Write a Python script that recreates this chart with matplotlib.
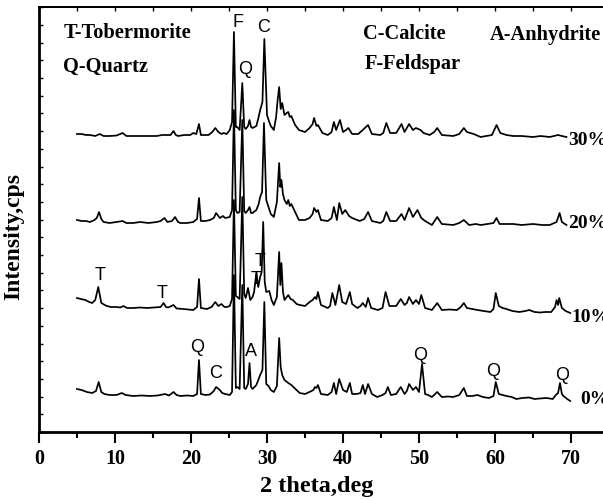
import matplotlib
matplotlib.use('Agg')
import matplotlib.pyplot as plt
import numpy as np

# 2-theta positions and intensities (arbitrary cps)
tt_0 = [5.0, 5.6, 6.3, 7.0, 7.5, 7.85, 8.2, 8.6, 9.3, 10.2, 10.9, 11.4, 12.4, 13.5, 14.6, 15.6, 16.6, 17.1,
        17.7, 18.1, 18.6, 19.5, 20.3, 20.8, 21.05, 21.3, 21.9, 22.5, 23.0, 23.3, 23.8, 24.1, 24.5, 25.1,
        25.4, 25.65, 25.9, 26.1, 26.4, 26.75, 27.0, 27.2, 27.5, 27.7, 27.9, 28.1, 28.6, 29.1, 29.4, 29.65,
        29.9, 30.2, 30.5, 30.9, 31.3, 31.6, 31.8, 32.0, 32.3, 32.8, 33.2, 33.9, 34.3, 35.0, 35.6, 36.1,
        36.3, 36.5, 36.7, 37.1, 38.0, 38.5, 38.8, 39.1, 39.5, 40.0, 40.5, 40.9, 41.2, 41.8, 42.3, 42.6,
        42.9, 43.3, 43.8, 44.5, 45.2, 45.6, 45.9, 46.3, 47.0, 47.6, 48.1, 48.4, 48.7, 49.2, 49.6, 50.0,
        50.4, 50.8, 51.2, 51.7, 52.4, 53.0, 53.8, 54.5, 55.3, 55.9, 56.3, 57.0, 57.7, 58.4, 59.2, 59.8,
        60.1, 60.5, 61.0, 61.5, 62.2, 62.8, 63.6, 64.5, 65.2, 65.9, 66.8, 67.6, 68.0, 68.3, 68.55, 68.8,
        69.0, 69.5, 69.9]
i_0 = [43, 42, 40, 39, 41, 50, 40, 38, 37, 37, 39, 37, 36, 36.5, 36, 36.5, 38, 36.5,
       40, 37, 36, 36.5, 36, 38, 72, 38, 37, 37.5, 41, 45, 42, 39, 38, 37,
       40, 157, 44, 45, 43, 147, 44, 43, 48, 69, 45, 43, 47, 57, 62, 130,
       48, 46, 42, 40, 46, 94, 65, 57, 52, 49, 47, 42, 39, 38, 40, 42,
       45, 44, 47, 38, 37, 40, 49, 38, 53, 42, 40, 49, 38, 38, 39, 47,
       38, 48, 38, 35, 37, 39, 45, 37, 38, 45, 38, 41, 48, 42, 45, 40,
       68, 38, 37, 35, 40, 35, 35.5, 35, 37, 44, 36, 36, 37, 35, 34, 36,
       50, 38, 37, 36, 35, 33, 34, 34.5, 33, 33.5, 34, 33, 37, 39, 49, 38,
       36, 33, 31]

tt_10 = [5.0, 5.5, 6.1, 6.6, 7.0, 7.4, 7.8, 8.2, 8.9, 9.5, 10.2, 10.7, 11.1, 11.6, 12.4, 13.3, 14.2, 15.1,
         16.0, 16.4, 16.7, 17.0, 17.7, 18.1, 19.0, 20.3, 20.8, 21.05, 21.3, 22.1, 22.7, 23.2, 23.6, 24.0,
         24.4, 24.7, 25.1, 25.4, 25.65, 25.9, 26.1, 26.4, 26.75, 27.0, 27.2, 27.5, 27.8, 28.1, 28.3, 28.6,
         28.85, 29.1, 29.3, 29.5, 29.7, 29.9, 30.3, 30.6, 30.9, 31.3, 31.6, 31.75, 31.9, 32.1, 32.3, 32.8,
         33.1, 33.4, 33.9, 34.3, 35.0, 35.6, 36.0, 36.3, 36.5, 36.7, 37.1, 38.0, 38.3, 38.6, 39.0, 39.5,
         39.9, 40.4, 40.9, 41.2, 41.9, 42.3, 42.6, 43.0, 43.3, 43.7, 44.6, 45.2, 45.6, 46.1, 47.0, 47.6,
         48.1, 48.4, 48.7, 49.2, 49.6, 50.0, 50.3, 50.8, 51.7, 52.4, 53.0, 54.0, 55.0, 55.5, 55.9, 56.3,
         57.0, 57.7, 58.5, 59.4, 59.8, 60.1, 60.5, 61.0, 61.5, 62.3, 63.2, 64.0, 64.5, 65.2, 65.9, 66.6,
         67.4, 67.9, 68.1, 68.3, 68.45, 68.8, 69.3, 69.9]
i_10 = [49, 48, 47, 45, 44, 47, 60, 44, 41, 40, 40, 39.5, 41, 39, 39, 39.5, 39, 39.5,
        40, 44, 40, 39.5, 42, 38.5, 38, 37, 40, 68, 39, 38, 40, 45, 41, 43,
        40, 40, 41, 48, 147, 51, 50, 48, 150, 53, 49, 59, 47, 50, 55, 74,
        60, 70, 75, 125, 65, 55, 56, 47, 42, 50, 95, 62, 84, 55, 47, 52,
        48, 47, 43, 42, 41, 45, 47, 50, 48, 55, 42, 39, 41, 54, 42, 62,
        45, 43, 55, 43, 39, 41, 44, 40, 49, 39, 37, 39, 55, 41, 41, 48,
        42, 44, 50, 43, 47, 43, 52, 39, 37, 44, 37, 37.5, 37, 40, 44, 39,
        38, 37, 36, 35, 38, 54, 41, 39, 38, 36, 35, 36, 37, 35, 34.5, 35,
        35, 40, 47, 42, 49, 39, 36, 34]

tt_20 = [5.0, 5.6, 6.2, 6.7, 7.3, 7.6, 7.9, 8.2, 8.5, 9.3, 10.2, 11.0, 11.5, 12.4, 13.3, 14.4, 15.5, 16.0,
         16.5, 16.9, 17.5, 17.9, 18.3, 18.6, 19.5, 20.3, 20.8, 21.05, 21.3, 21.9, 22.5, 23.0, 23.3, 23.8,
         24.2, 24.5, 25.1, 25.4, 25.65, 25.9, 26.1, 26.4, 26.75, 27.0, 27.2, 27.5, 27.7, 27.9, 28.1, 28.6,
         28.9, 29.1, 29.35, 29.6, 29.9, 30.2, 30.5, 30.9, 31.3, 31.6, 31.75, 31.9, 32.1, 32.3, 32.6, 32.8,
         33.0, 33.2, 33.7, 34.2, 35.0, 35.6, 36.0, 36.2, 36.5, 36.7, 37.1, 38.0, 38.5, 38.8, 39.2, 39.5,
         39.9, 40.3, 40.8, 41.2, 42.2, 42.8, 43.3, 43.8, 44.9, 45.3, 45.7, 46.2, 47.0, 47.7, 48.1, 48.7,
         49.2, 49.8, 50.3, 50.8, 51.7, 52.4, 53.0, 54.5, 55.3, 55.9, 56.6, 57.5, 58.1, 59.0, 59.8, 60.2,
         60.6, 61.5, 62.4, 63.5, 65.0, 66.2, 67.2, 68.1, 68.5, 68.8, 69.4]
i_20 = [37, 36, 36, 35, 37, 39, 45, 38, 35, 34, 35, 36, 34, 34, 35, 34, 35, 36,
        39, 35, 36, 40, 35, 34, 34, 35, 38, 59, 36, 36, 37, 39, 44, 39,
        41, 39, 40, 47, 147, 47, 44, 45, 137, 46, 44, 47, 50, 44, 44, 47,
        53, 60, 65, 134, 57, 50, 43, 40, 55, 94, 70, 77, 63, 57, 53, 57,
        51, 53, 45, 37, 37, 39, 43, 49, 45, 47, 37, 36, 39, 50, 37, 54,
        43, 47, 41, 39, 36, 38, 45, 36, 34, 36, 45, 36, 36, 43, 37, 49,
        40, 47, 39, 36, 32, 40, 33, 32, 34, 37, 32, 33, 32, 33, 34, 39,
        33, 33, 33, 32, 33, 32, 32, 35, 44, 35, 32]

tt_30 = [5.0, 5.6, 6.2, 6.7, 7.4, 8.0, 8.5, 9.3, 10.2, 11.0, 11.5, 12.4, 13.3, 14.4, 15.5, 16.2, 16.8, 17.3,
         17.7, 18.0, 18.3, 19.1, 19.9, 20.3, 20.7, 21.05, 21.3, 21.8, 22.3, 22.8, 23.2, 23.6, 24.0, 24.3,
         24.7, 25.1, 25.4, 25.65, 25.9, 26.1, 26.4, 26.75, 27.0, 27.2, 27.5, 27.7, 27.9, 28.1, 28.6, 28.9,
         29.1, 29.4, 29.65, 30.0, 30.3, 30.5, 30.9, 31.2, 31.4, 31.6, 31.8, 32.0, 32.3, 32.6, 32.8, 33.0,
         33.2, 33.7, 34.2, 35.0, 35.6, 36.0, 36.2, 36.5, 36.7, 37.3, 38.0, 38.5, 38.8, 39.1, 39.6, 40.0,
         40.4, 40.7, 41.2, 42.0, 42.6, 43.3, 43.8, 44.9, 45.3, 45.7, 46.2, 47.0, 47.7, 48.1, 48.7, 49.2,
         49.6, 50.2, 50.6, 51.4, 52.0, 52.4, 53.0, 54.5, 55.3, 55.9, 56.3, 57.2, 58.1, 59.6, 60.2, 60.7,
         61.5, 62.4, 63.5, 65.0, 66.0, 67.2, 68.3, 68.8, 69.4]
i_30 = [38, 38, 37, 37, 36, 38, 36, 36, 36.5, 39, 36, 36, 36, 36, 36, 37, 37, 37,
        41, 37, 36, 37, 37, 39, 38, 48, 37, 37, 37, 40, 44, 40, 38, 39,
        38, 42, 50, 140, 45, 45, 42, 89, 45, 43, 46, 52, 45, 44, 46, 55,
        62, 70, 133, 57, 50, 46, 42, 55, 72, 85, 63, 69, 57, 59, 60, 55,
        56, 47, 42, 40, 44, 48, 54, 46, 47, 39, 37, 40, 50, 42, 52, 40,
        42, 44, 38, 38, 42, 47, 38, 37, 39, 49, 39, 39, 48, 40, 48, 42,
        44, 42, 39, 37, 40, 44, 37, 36, 38, 44, 40, 38, 35, 37, 47, 39,
        37, 36, 36, 35, 36, 35, 37, 36, 35]

scans = [(tt_0, i_0), (tt_10, i_10), (tt_20, i_20), (tt_30, i_30)]
offsets = [0, 85, 175, 260]
pct_labels = ['0%', '10%', '20%', '30%']
pct_pos = [(71.2, 33), (70.1, 114), (69.6, 208), (69.6, 292)]

phases = ['T-Tobermorite', 'Q-Quartz', 'C-Calcite', 'F-Feldspar', 'A-Anhydrite']
phase_pos = [(3.2, 399), (3.2, 365), (42.6, 398), (42.9, 368), (59.3, 397)]

peak_marks = ['F', 'C', 'Q', 'T', 'T', 'T', 'T', 'Q', 'C', 'A', 'Q', 'Q', 'Q']
peak_pos = [(26.2, 410), (29.5, 405), (27.1, 363), (8.0, 157), (16.2, 139), (29.1, 170), (28.55, 152),
            (20.8, 85), (23.2, 59), (27.9, 80), (50.1, 77), (59.7, 60), (68.8, 57)]

serif = 'Liberation Serif'
sans = 'Liberation Sans'

fig = plt.figure(figsize=(6.03, 5.0), dpi=100)
ax = fig.add_axes([39/603, 68/500, 570/603, 425/500])

for (tt, inten), off in zip(scans, offsets):
    ax.plot(tt, np.array(inten) + off, color='black', lw=1.25)

for lab, (x, y) in zip(pct_labels, pct_pos):
    ax.text(x, y, lab, fontsize=14, fontweight='bold', family=serif, ha='left', va='center')
for lab, (x, y) in zip(phases, phase_pos):
    ax.text(x, y, lab, fontsize=14.7, fontweight='bold', family=serif, ha='left', va='center')
for lab, (x, y) in zip(peak_marks, peak_pos):
    ax.text(x, y, lab, fontsize=13, family=sans, ha='center', va='center')

ax.set_xlim(0, 75)
ax.set_ylim(0, 425)
ax.set_xticks(range(0, 80, 10))
ax.set_xticks(range(5, 80, 10), minor=True)
ax.set_yticks(np.arange(0, 425, 17.7))
ax.tick_params(axis='x', which='major', direction='out', length=8, width=1.5, pad=4)
ax.tick_params(axis='x', which='minor', direction='out', length=4, width=1.5)
ax.tick_params(axis='y', direction='in', length=3, width=1, labelleft=False)
for lab in ax.get_xticklabels():
    lab.set_fontfamily(serif)
    lab.set_fontweight('bold')
    lab.set_fontsize(14.5)

secax = ax.secondary_xaxis('top')
secax.set_xticks(range(0, 80, 5))
secax.tick_params(direction='in', length=3, width=1, labeltop=False)
secax.spines['top'].set_linewidth(1.3)

ax.spines['left'].set_linewidth(2)
ax.spines['bottom'].set_linewidth(2)
ax.spines['top'].set_linewidth(1.3)
ax.spines['right'].set_visible(False)

ax.set_xlabel('2 theta,deg', fontsize=17.5, fontweight='bold', family=serif)
ax.set_ylabel('Intensity,cps', fontsize=17, fontweight='bold', family=serif)
ax.xaxis.set_label_coords(0.488, -0.104)
ax.yaxis.set_label_coords(-0.026, 0.459)

plt.savefig('out.png', dpi=100)
